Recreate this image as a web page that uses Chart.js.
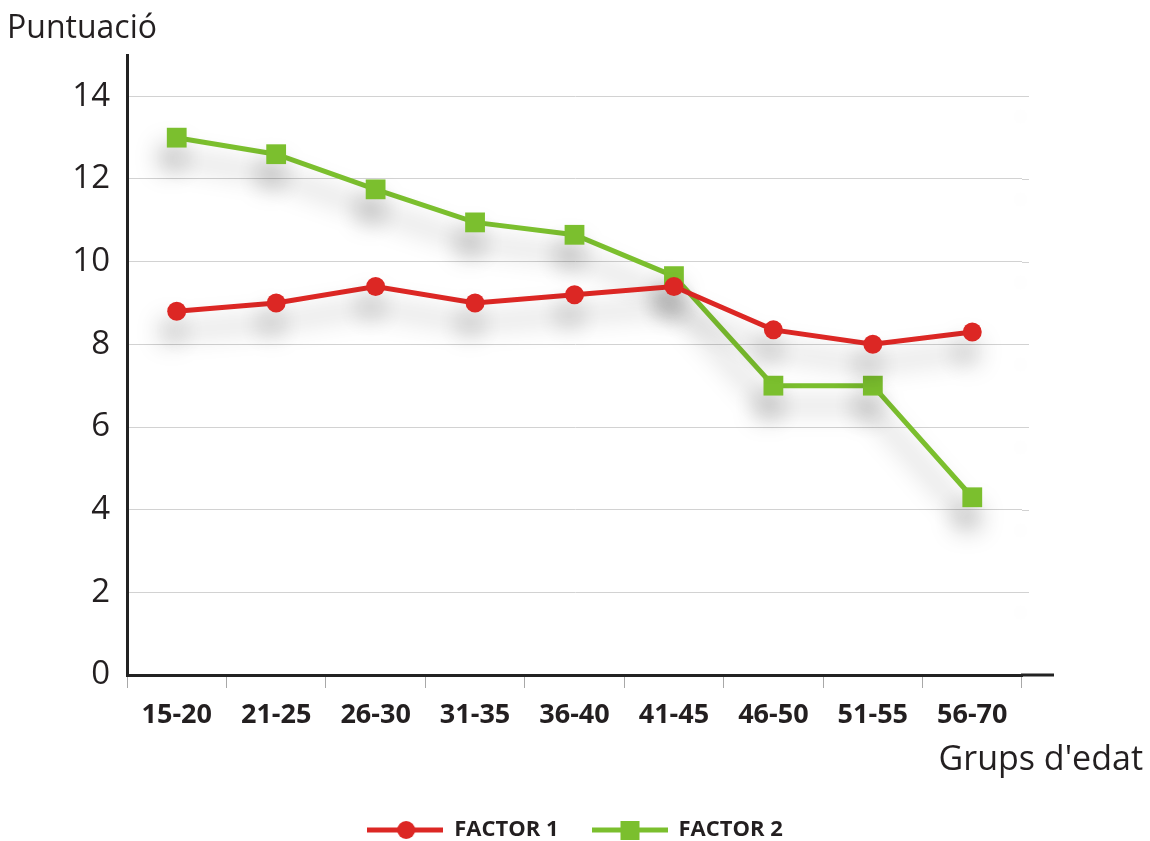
<!DOCTYPE html>
<html>
<head>
<meta charset="utf-8">
<title>Puntuació per grups d'edat</title>
<script src="https://cdn.jsdelivr.net/npm/chart.js@4.4.1/dist/chart.umd.min.js"></script>
<style>
  html, body { margin: 0; padding: 0; background: #ffffff; }
  #wrap { width: 1150px; height: 841px; }
</style>
</head>
<body>
<div id="wrap"><canvas id="chart" width="1150" height="841"></canvas></div>
<script>
// Age groups on the horizontal axis
const ageGroups = ['15-20', '21-25', '26-30', '31-35', '36-40', '41-45', '46-50', '51-55', '56-70'];
// Scores per age group
const factor1 = [8.8, 9.0, 9.4, 9.0, 9.2, 9.4, 8.35, 8.0, 8.3];
const factor2 = [13.0, 12.6, 11.75, 10.95, 10.65, 9.65, 7.0, 7.0, 4.3];
// Values shown on the vertical axis
const yTickValues = [0, 2, 4, 6, 8, 10, 12, 14];
const seriesNames = ['FACTOR 1', 'FACTOR 2'];

const RED = '#dc2724';
const GREEN = '#7bbf2e';
const TEXT = '#231f20';
const FONT = "'Open Sans', 'DejaVu Sans', sans-serif";

// Legend swatch: a short line with the series marker in the middle
function legendSwatch(color, style) {
  const c = document.createElement('canvas');
  c.width = 76; c.height = 22;
  const g = c.getContext('2d');
  g.strokeStyle = color;
  g.lineWidth = 5;
  g.beginPath();
  g.moveTo(0, 11); g.lineTo(76, 11);
  g.stroke();
  g.fillStyle = color;
  if (style === 'circle') {
    g.beginPath(); g.arc(39, 11, 9, 0, Math.PI * 2); g.fill();
  } else {
    g.fillRect(29, 2, 19, 19);
  }
  return c;
}
const swatches = [legendSwatch(RED, 'circle'), legendSwatch(GREEN, 'rect')];

// Soft drop shadow under the series lines and markers
const lineShadow = {
  id: 'lineShadow',
  beforeDatasetsDraw(chart) {
    const ctx = chart.ctx;
    ctx.save();
    ctx.shadowColor = 'rgba(0,0,0,0.38)';
    ctx.shadowBlur = 26;
    ctx.shadowOffsetX = -5;
    ctx.shadowOffsetY = 20;
  },
  afterDatasetsDraw(chart) {
    chart.ctx.restore();
  }
};

// The horizontal axis line runs a little past the last category,
// and the value grid lines a few pixels past it too
const axisTail = {
  id: 'axisTail',
  beforeDatasetsDraw(chart) {
    const { ctx, chartArea, scales } = chart;
    ctx.save();
    ctx.strokeStyle = '#d2d2d2';
    ctx.lineWidth = 1;
    scales.y.ticks.forEach(t => {
      if (t.value === 0) return;
      const y = Math.round(scales.y.getPixelForValue(t.value)) + 0.5;
      ctx.beginPath();
      ctx.moveTo(chartArea.right, y);
      ctx.lineTo(chartArea.right + 7, y);
      ctx.stroke();
    });
    ctx.restore();
  },
  afterDraw(chart) {
    const { ctx, chartArea } = chart;
    ctx.save();
    ctx.strokeStyle = '#222222';
    ctx.lineWidth = 3;
    ctx.beginPath();
    ctx.moveTo(chartArea.right - 1, chartArea.bottom);
    ctx.lineTo(chartArea.right + 32, chartArea.bottom);
    ctx.stroke();
    ctx.restore();
  }
};

new Chart(document.getElementById('chart'), {
  type: 'line',
  data: {
    labels: ageGroups,
    datasets: [
      {
        label: seriesNames[0],
        data: factor1,
        borderColor: RED,
        backgroundColor: RED,
        borderWidth: 5,
        pointStyle: 'circle',
        pointRadius: 9.5,
        pointBorderWidth: 0,
        pointBackgroundColor: RED,
        tension: 0
      },
      {
        label: seriesNames[1],
        data: factor2,
        borderColor: GREEN,
        backgroundColor: GREEN,
        borderWidth: 5,
        pointStyle: 'rect',
        pointRadius: 14,
        pointBorderWidth: 0,
        pointBackgroundColor: GREEN,
        tension: 0
      }
    ]
  },
  options: {
    responsive: false,
    animation: false,
    devicePixelRatio: 1,
    layout: { padding: { left: 7, right: 7, top: 0, bottom: -10 } },
    scales: {
      x: {
        type: 'category',
        offset: true,
        grid: {
          offset: true,
          drawOnChartArea: false,
          drawTicks: true,
          tickLength: 13,
          tickColor: '#a8a8a8',
          tickWidth: 1
        },
        border: { display: true, color: '#222222', width: 3 },
        ticks: {
          color: TEXT,
          padding: 11,
          maxRotation: 0,
          autoSkip: false,
          font: { family: FONT, size: 27, weight: 'bold' }
        },
        afterFit(scale) { scale.height = 65.2; }
      },
      y: {
        type: 'linear',
        min: 0,
        max: 15,
        afterBuildTicks(scale) {
          scale.ticks = yTickValues.map(v => ({ value: v }));
        },
        grid: {
          color: '#d2d2d2',
          lineWidth: 1,
          drawTicks: false
        },
        border: { display: true, color: '#222222', width: 3 },
        ticks: {
          color: TEXT,
          padding: 17,
          font: { family: FONT, size: 33 }
        },
        afterFit(scale) { scale.width = 120; }
      },
      gutter: {
        type: 'linear',
        position: 'right',
        display: true,
        grid: { display: false, drawTicks: false },
        border: { display: false },
        ticks: { display: false },
        afterFit(scale) { scale.width = 121; }
      }
    },
    plugins: {
      title: {
        display: true,
        text: 'Puntuació',
        align: 'start',
        color: TEXT,
        font: { family: FONT, size: 32, weight: 'normal', lineHeight: 1.2 },
        padding: { top: 10, bottom: 6.6 }
      },
      subtitle: {
        display: true,
        text: "Grups d'edat",
        position: 'bottom',
        align: 'end',
        weight: 500,
        color: TEXT,
        font: { family: FONT, size: 34, weight: 'normal', lineHeight: 1.2 },
        padding: { top: 0, bottom: 5 }
      },
      legend: {
        display: true,
        position: 'bottom',
        labels: {
          usePointStyle: true,
          pointStyleWidth: 76,
          padding: 33,
          color: TEXT,
          font: { family: FONT, size: 22, weight: 'bold', lineHeight: 1.2 },
          generateLabels(chart) {
            return chart.data.datasets.map((ds, i) => ({
              text: ds.label,
              pointStyle: swatches[i],
              fillStyle: ds.borderColor,
              strokeStyle: ds.borderColor,
              lineWidth: 0,
              fontColor: TEXT,
              hidden: false,
              datasetIndex: i
            }));
          }
        }
      },
      tooltip: { enabled: false }
    }
  },
  plugins: [lineShadow, axisTail]
});
</script>
</body>
</html>
